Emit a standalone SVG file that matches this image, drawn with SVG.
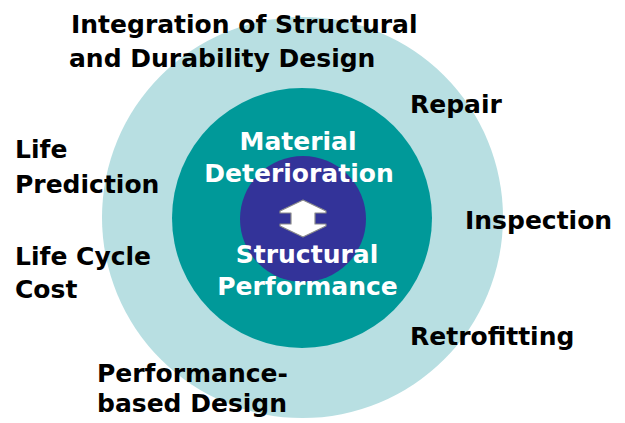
<svg xmlns="http://www.w3.org/2000/svg" width="625" height="423" viewBox="0 0 625 423">
<style>
.lbl{font-family:"DejaVu Sans","Liberation Sans",sans-serif;font-weight:bold;font-size:25px;fill:#000}
.in{font-family:"DejaVu Sans","Liberation Sans",sans-serif;font-weight:bold;font-size:25px;fill:#fff;text-anchor:middle}
</style>
<rect width="625" height="423" fill="#fff"/>
<g id="outer-ring"><circle cx="302.5" cy="217.5" r="200.5" fill="#b8dfe2"/></g>
<g id="middle-ring"><circle cx="302" cy="218" r="130" fill="#009999"/></g>
<g id="core"><circle cx="303" cy="219" r="63" fill="#333399"/></g>
<g id="connectors">
<polygon points="303,200 326,211 326,213 315,213 315,224 326,224 326,226 303,237 280,226 280,224 291,224 291,213 280,213 280,211" fill="#fff" stroke="#8a8a8a" stroke-width="1.2" stroke-linejoin="round"/>
</g>
<g id="material-deterioration">
<text class="in" x="298" y="150">Material</text>
<text class="in" x="299" y="182">Deterioration</text>
</g>
<g id="structural-performance">
<text class="in" x="307" y="263">Structural</text>
<text class="in" x="307.5" y="295">Performance</text>
</g>
<g id="integration">
<text class="lbl" x="71" y="32.5">Integration of Structural</text>
<text class="lbl" x="69" y="66.5">and Durability Design</text>
</g>
<g id="repair"><text class="lbl" x="410" y="113">Repair</text></g>
<g id="inspection"><text class="lbl" x="465" y="229">Inspection</text></g>
<g id="retrofitting"><text class="lbl" x="410" y="345">Retrofitting</text></g>
<g id="life-prediction">
<text class="lbl" x="15" y="158">Life</text>
<text class="lbl" x="15" y="193">Prediction</text>
</g>
<g id="life-cycle-cost">
<text class="lbl" x="15" y="265">Life Cycle</text>
<text class="lbl" x="15" y="298">Cost</text>
</g>
<g id="performance-based-design">
<text class="lbl" x="97" y="381.5">Performance-</text>
<text class="lbl" x="97" y="411.5">based Design</text>
</g>
</svg>
